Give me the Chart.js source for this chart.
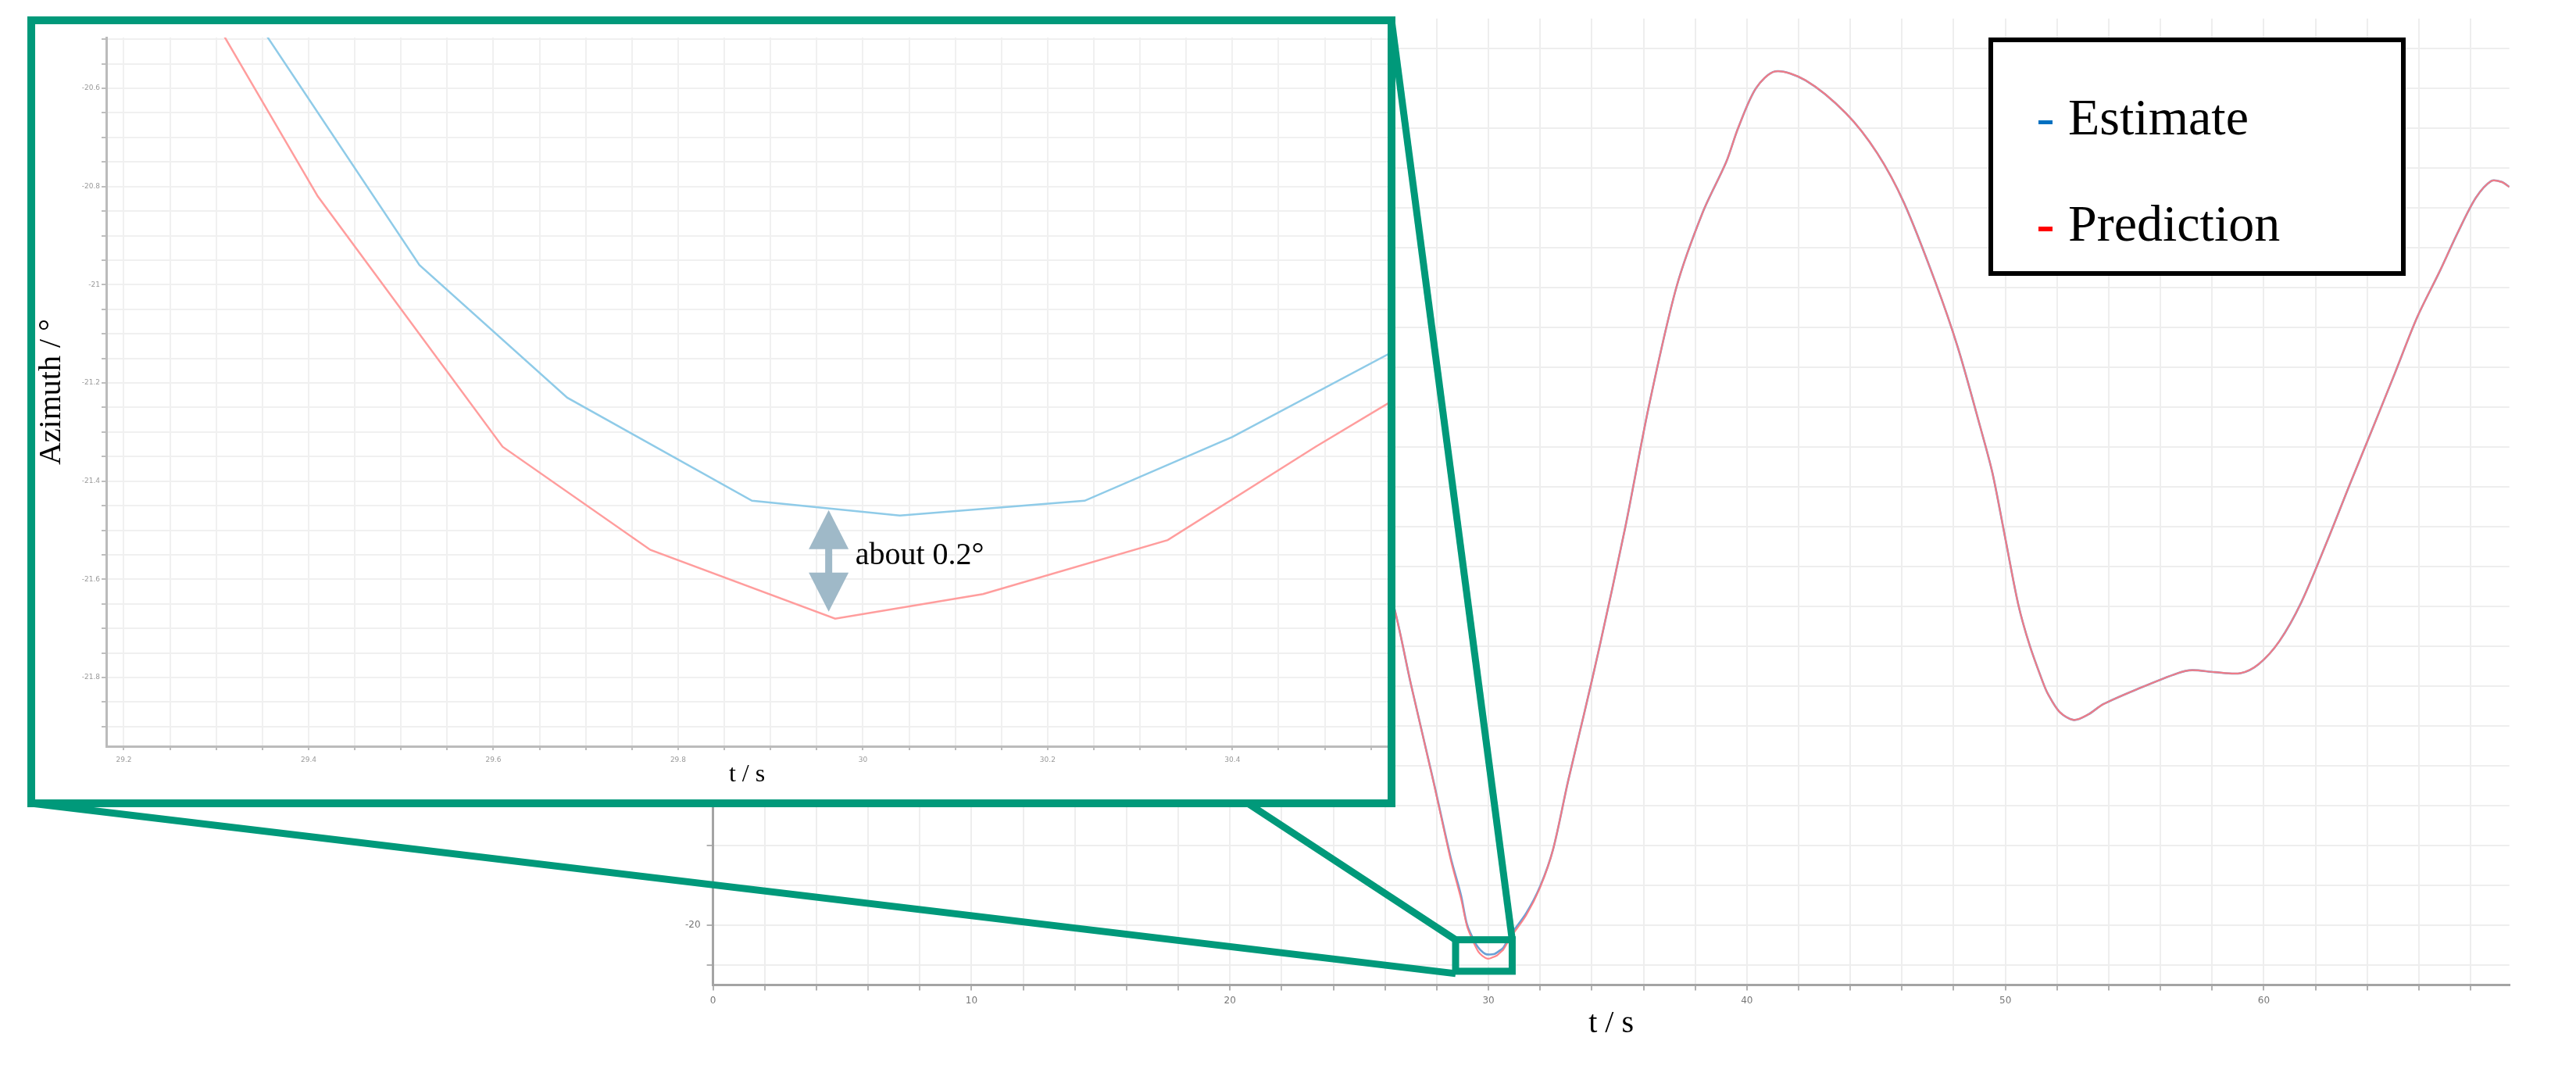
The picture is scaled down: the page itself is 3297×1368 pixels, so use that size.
<!DOCTYPE html>
<html>
<head>
<meta charset="utf-8">
<script src="https://cdn.jsdelivr.net/npm/chart.js@4.4.1/dist/chart.umd.min.js"></script>
<style>
  html, body { margin: 0; padding: 0; background: #fff; }
  body { width: 3297px; height: 1368px; position: relative; overflow: hidden; }
  #main { position: absolute; left: 0; top: 0; }
  #inset {
    position: absolute; left: 35px; top: 21px; width: 1751px; height: 1012px;
    box-sizing: border-box; border: 10px solid #00997a; background: #fff;
  }
  #inset canvas { position: absolute; left: 0; top: 0; }
  #legend {
    position: absolute; left: 2545px; top: 48px; width: 534px; height: 305px;
    box-sizing: border-box; border: 6px solid #000; background: #fff;
    font-family: 'Liberation Serif', 'Times New Roman', serif; font-size: 66px; line-height: 66px; color: #000;
  }
  #legend .dash { position: absolute; left: 58px; width: 18px; }
  #legend .label { position: absolute; left: 96px; white-space: nowrap; }
</style>
</head>
<body>
<canvas id="main" width="3297" height="1368"></canvas>
<div id="inset"><canvas id="zoom" width="1731" height="992"></canvas></div>
<div id="legend">
  <div class="dash" style="top:100px;height:5px;background:#0070c0"></div>
  <div class="label" style="top:63px">Estimate</div>
  <div class="dash" style="top:236px;height:6px;background:#ff0000"></div>
  <div class="label" style="top:199px">Prediction</div>
</div>
<script>
// Azimuth traces (t in s, azimuth in degrees)
const estTime = [25.5, 26.3, 27.0, 27.87, 28.54, 28.94, 29.18, 29.52, 29.68, 29.88, 30.04, 30.24, 30.40, 30.57,
    30.85, 31.46, 32.0, 32.5, 33.08, 33.7, 34.29, 35.3, 36.2, 37.27, 38.3, 39.2, 39.66, 40.35, 41.1, 42.27,
    43.83, 45.04, 46.08, 47.3, 48.16, 49.03, 49.5, 50.0, 50.5, 50.94, 51.45, 51.65, 52.1, 52.65, 53.2, 53.8,
    55.2, 56.67, 57.23, 58.1, 59.1, 59.8, 60.6, 61.45, 62.46, 63.32, 64.2, 65.07, 65.93, 66.8, 67.5, 68.2,
    68.8, 69.2, 69.5];
const estAzimuth = [-0.9, -3.8, -7.9, -12.75, -16.6, -18.5, -20.0, -20.96, -21.23, -21.44, -21.47, -21.44, -21.31, -21.14,
    -20.5, -19.4, -18.05, -16.2, -12.78, -9.4, -6.08, 0.0, 6.0, 12.0, 15.8, 18.3, 20.0, 22.0, 22.85, 22.4,
    20.75, 18.75, 16.25, 12.25, 9.0, 5.0, 2.7, -0.6, -3.9, -5.95, -7.8, -8.4, -9.3, -9.7, -9.43, -8.9,
    -8.1, -7.35, -7.2, -7.3, -7.35, -6.9, -5.75, -3.8, -0.7, 2.1, 4.9, 7.7, 10.5, 12.8, 14.75, 16.5,
    17.35, 17.3, 17.05];

const predTime = [25.5, 26.3, 27.0, 27.87, 28.54, 28.94, 29.18, 29.41, 29.61, 29.77, 29.97, 30.13, 30.33, 30.49, 30.57,
    30.85, 31.46, 32.0, 32.5, 33.08, 33.7, 34.29, 35.3, 36.2, 37.27, 38.3, 39.2, 39.66, 40.35, 41.1, 42.27,
    43.83, 45.04, 46.08, 47.3, 48.16, 49.03, 49.5, 50.0, 50.5, 50.94, 51.45, 51.65, 52.1, 52.65, 53.2, 53.8,
    55.2, 56.67, 57.23, 58.1, 59.1, 59.8, 60.6, 61.45, 62.46, 63.32, 64.2, 65.07, 65.93, 66.8, 67.5, 68.2,
    68.8, 69.2, 69.5];
const predAzimuth = [-0.9, -3.8, -7.9, -12.78, -16.71, -18.67, -20.08, -20.82, -21.33, -21.54, -21.68, -21.63, -21.52, -21.33, -21.24,
    -20.63, -19.5, -18.1, -16.2, -12.78, -9.4, -6.08, 0.0, 6.0, 12.0, 15.8, 18.3, 20.0, 22.0, 22.85, 22.4,
    20.75, 18.75, 16.25, 12.25, 9.0, 5.0, 2.7, -0.6, -3.9, -5.95, -7.8, -8.4, -9.3, -9.7, -9.43, -8.9,
    -8.1, -7.35, -7.2, -7.3, -7.35, -6.9, -5.75, -3.8, -0.7, 2.1, 4.9, 7.7, 10.5, 12.8, 14.75, 16.5,
    17.35, 17.3, 17.05];

// zoomed window shown in the inset, and the marker drawn round it on the main plot
const zoomRange = { tMin: 29.181, tMax: 30.568, aMin: -21.94, aMax: -20.4965 };
const markerRange = { tMin: 28.73, tMax: 30.92, aMin: -22.31, aMax: -20.73 };
const noteText = 'about 0.2°';
const noteTime = 29.963;
const noteTop = -21.459;
const noteBottom = -21.666;

const green = '#00997a';

function toPoints(xs, ys) {
    return xs.map((x, i) => ({ x: x, y: ys[i] }));
}

// green box on the main plot plus the connector lines to the inset frame
const zoomMarker = {
    id: 'zoomMarker',
    afterDatasetsDraw(chart) {
        const { ctx, scales: { x, y } } = chart;
        const left = x.getPixelForValue(markerRange.tMin);
        const right = x.getPixelForValue(markerRange.tMax);
        const top = y.getPixelForValue(markerRange.aMax);
        const bottom = y.getPixelForValue(markerRange.aMin);

        ctx.save();
        ctx.strokeStyle = green;
        ctx.lineWidth = 9;
        ctx.strokeRect(left, top, right - left, bottom - top);

        const lines = [
            [40, 1028, left, bottom + 3],
            [1597, 1028, left, top],
            [1781, 26, right, top]
        ];
        lines.forEach(l => {
            ctx.beginPath();
            ctx.moveTo(l[0], l[1]);
            ctx.lineTo(l[2], l[3]);
            ctx.stroke();
        });
        ctx.restore();
    }
};

// double arrow and its label inside the inset
const gapNote = {
    id: 'gapNote',
    afterDatasetsDraw(chart) {
        const { ctx, scales: { x, y } } = chart;
        const ax = x.getPixelForValue(noteTime);
        const top = y.getPixelForValue(noteTop);
        const bottom = y.getPixelForValue(noteBottom);
        const head = 50;
        const half = 25.5;
        const shaft = 4.5;

        ctx.save();
        ctx.fillStyle = '#9fb9c8';
        ctx.beginPath();
        ctx.moveTo(ax, top);
        ctx.lineTo(ax + half, top + head);
        ctx.lineTo(ax - half, top + head);
        ctx.closePath();
        ctx.fill();
        ctx.beginPath();
        ctx.moveTo(ax, bottom);
        ctx.lineTo(ax + half, bottom - head);
        ctx.lineTo(ax - half, bottom - head);
        ctx.closePath();
        ctx.fill();
        ctx.fillRect(ax - shaft, top + head - 1, shaft * 2, bottom - top - head * 2 + 2);

        ctx.fillStyle = '#000';
        ctx.font = '40px "Liberation Serif"';
        ctx.textBaseline = 'alphabetic';
        ctx.textAlign = 'left';
        ctx.fillText(noteText, ax + 34, (top + bottom) / 2 + 4);
        ctx.restore();
    }
};

const mainTickFont = { family: 'DejaVu Sans', size: 12 };
const zoomTickFont = { family: 'DejaVu Sans', size: 9 };

new Chart(document.getElementById('main'), {
    type: 'line',
    data: {
        datasets: [{
            label: 'Prediction',
            data: toPoints(predTime, predAzimuth),
            borderColor: 'rgba(255, 120, 125, 0.9)',
            borderWidth: 2.2,
            pointRadius: 0,
            tension: 0.3,
            order: 0
        }, {
            label: 'Estimate',
            data: toPoints(estTime, estAzimuth),
            borderColor: 'rgba(90, 150, 210, 0.9)',
            borderWidth: 2.6,
            pointRadius: 0,
            tension: 0.3,
            order: 1
        }]
    },
    options: {
        responsive: false,
        animation: false,
        devicePixelRatio: 1,
        layout: { padding: { top: 23.75, right: 85.3, left: 0, bottom: 0 } },
        plugins: { legend: { display: false }, tooltip: { enabled: false } },
        scales: {
            x: {
                type: 'linear',
                min: 0,
                max: 69.5,
                afterFit: (s) => { s.height = 107.5; },
                grid: { color: '#eeeeee', lineWidth: 2, tickColor: '#999', tickLength: 7, tickWidth: 1.5 },
                border: { color: '#a4a4a4', width: 3 },
                ticks: {
                    stepSize: 2, includeBounds: false, autoSkip: false, maxRotation: 0, minRotation: 0,
                    padding: 6, color: '#777', font: mainTickFont,
                    callback: (v) => (Math.round(v) % 10 === 0 ? String(Math.round(v)) : '')
                },
                title: {
                    display: true, text: 't / s', color: '#000',
                    font: { family: 'Liberation Serif', size: 40, lineHeight: 1 },
                    padding: { top: 0, bottom: 38 }
                }
            },
            y: {
                min: -23,
                max: 25.5,
                afterFit: (s) => { s.width = 912.6; },
                grid: { color: '#eeeeee', lineWidth: 2, tickColor: '#999', tickLength: 8, tickWidth: 1.5 },
                border: { color: '#a4a4a4', width: 3 },
                ticks: {
                    stepSize: 2, includeBounds: false, autoSkip: false,
                    padding: 8, color: '#777', font: mainTickFont,
                    callback: (v) => (Math.round(v) % 10 === 0 ? String(Math.round(v)) : '')
                }
            }
        }
    },
    plugins: [zoomMarker]
});

const isMajor = (v) => Math.abs(v * 5 - Math.round(v * 5)) < 1e-6;

new Chart(document.getElementById('zoom'), {
    type: 'line',
    data: {
        datasets: [{
            label: 'Prediction',
            data: toPoints(predTime, predAzimuth),
            borderColor: '#ff9d9d',
            borderWidth: 2.5,
            pointRadius: 0,
            tension: 0,
            order: 0
        }, {
            label: 'Estimate',
            data: toPoints(estTime, estAzimuth),
            borderColor: '#8fcbe8',
            borderWidth: 2.5,
            pointRadius: 0,
            tension: 0,
            order: 1
        }]
    },
    options: {
        responsive: false,
        animation: false,
        devicePixelRatio: 1,
        layout: { padding: { top: 17, right: 0, left: 0, bottom: 0 } },
        plugins: { legend: { display: false }, tooltip: { enabled: false } },
        scales: {
            x: {
                type: 'linear',
                min: zoomRange.tMin,
                max: zoomRange.tMax,
                afterFit: (s) => { s.height = 68; },
                grid: { color: '#f0f0f0', lineWidth: 2, tickColor: '#aaa', tickLength: 5, tickWidth: 1.5 },
                border: { color: '#bbbbbb', width: 3 },
                ticks: {
                    stepSize: 0.05, includeBounds: false, autoSkip: false, maxRotation: 0, minRotation: 0,
                    padding: 7, color: '#999', font: zoomTickFont,
                    callback: (v) => (isMajor(v) ? String(parseFloat(v.toFixed(1))) : '')
                },
                title: {
                    display: true, text: 't / s', color: '#000',
                    font: { family: 'Liberation Serif', size: 32, lineHeight: 1 },
                    padding: { top: 0, bottom: 15 }
                }
            },
            y: {
                min: zoomRange.aMin,
                max: zoomRange.aMax,
                afterFit: (s) => { s.width = 91; },
                grid: { color: '#f0f0f0', lineWidth: 2, tickColor: '#aaa', tickLength: 6, tickWidth: 1.5 },
                border: { color: '#bbbbbb', width: 3 },
                ticks: {
                    stepSize: 0.05, includeBounds: false, autoSkip: false,
                    padding: 2, color: '#999', font: zoomTickFont,
                    callback: (v) => (isMajor(v) ? String(parseFloat(v.toFixed(1))) : '')
                },
                title: {
                    display: true, text: 'Azimuth / °', color: '#000',
                    font: { family: 'Liberation Serif', size: 40, lineHeight: 1 },
                    padding: { top: 1, bottom: 0 }
                }
            }
        }
    },
    plugins: [gapNote]
});
</script>
</body>
</html>
